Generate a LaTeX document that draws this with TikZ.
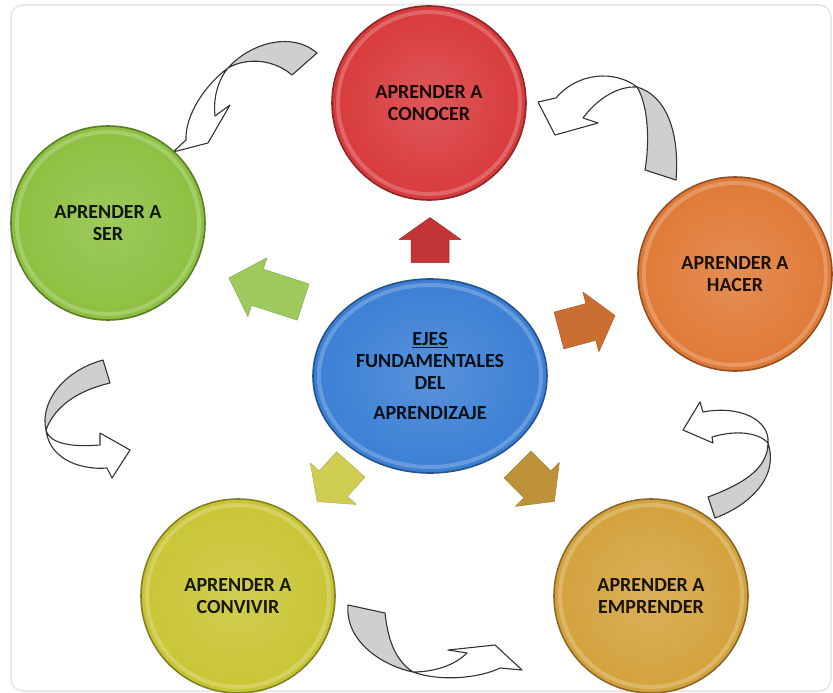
\documentclass[tikz,border=0pt]{standalone}
\usepackage{fontspec}
\setmainfont{Carlito}
\usetikzlibrary{shapes.geometric}
\definecolor{cRed}{HTML}{D83A3C}
\definecolor{cGreen}{HTML}{8CC040}
\definecolor{cOrange}{HTML}{E07A36}
\definecolor{cBlue}{HTML}{3B7FD4}
\definecolor{cYellow}{HTML}{C8C534}
\definecolor{cGold}{HTML}{D3A23C}
\tikzset{
  disc/.style={circle, minimum size=194pt, inner sep=0pt, draw=#1!65!black, line width=1.6pt,
    shading=radial, inner color=#1!85!white, outer color=#1, text=#1!12!black,
    font=\fontsize{20}{22}\selectfont\bfseries, align=center},
  bevel/.style={draw=#1!45!white, line width=4pt, opacity=0.4},
  backband/.style={fill=gray!38, draw=black!80, line width=1.1pt, line join=round},
  frontband/.style={fill=white, draw=black!80, line width=1.1pt, line join=round},
  blockarrow/.style={fill=#1, draw=#1!85!black, line width=0.5pt, line join=round},
}
\newcommand\blockarr[6]{%
  \begin{scope}[shift={(#1,#2)}, rotate=#3]
    \path[blockarrow=#6] (-#4/2,-19) -- ({#4/2-#5},-19) -- ({#4/2-#5},-31) -- (#4/2,0)
      -- ({#4/2-#5},31) -- ({#4/2-#5},19) -- (-#4/2,19) -- cycle;
  \end{scope}}
\begin{document}
\begin{tikzpicture}[x=1pt,y=-1pt]
\useasboundingbox (0,0) rectangle (833,693);
\fill[white] (0,0) rectangle (833,693);
\draw[gray!20, line width=1.5pt, rounded corners=12pt] (11,5) rectangle (831,691);

% curved arrows
\path[backband] (228,68) .. controls (248,45) and (290,30) .. (317,53) -- (292,75)
  .. controls (272,58) and (245,58) .. (228,68) -- cycle;
\path[frontband] (228,68) .. controls (205,85) and (185,115) .. (186,140) -- (173,152) -- (208,143)
  -- (230,105) -- (215,116) .. controls (213,98) and (218,80) .. (228,68) -- cycle;

\path[backband] (637,87) .. controls (665,95) and (680,130) .. (676,180) -- (645,170)
  .. controls (650,140) and (648,105) .. (637,87) -- cycle;
\path[frontband] (637,87) .. controls (615,70) and (578,72) .. (556,98) -- (538,102) -- (555,135)
  -- (598,123) -- (583,118) .. controls (598,98) and (618,86) .. (637,87) -- cycle;

\path[backband] (103,360) -- (110,383) .. controls (80,390) and (55,405) .. (46,430)
  .. controls (40,405) and (60,372) .. (103,360) -- cycle;
\path[frontband] (46,430) .. controls (50,445) and (75,447) .. (100,445) -- (100,433) -- (130,450)
  -- (112,478) -- (107,468) .. controls (85,470) and (50,462) .. (46,430) -- cycle;

\path[backband] (708,497) -- (715,518) .. controls (745,507) and (780,480) .. (768,443)
  .. controls (768,470) and (740,485) .. (708,497) -- cycle;
\path[frontband] (768,443) .. controls (770,420) and (740,405) .. (703,412) -- (700,402) -- (683,430)
  -- (713,443) -- (712,437) .. controls (735,430) and (758,432) .. (768,443) -- cycle;

\path[backband] (348,605) -- (385,613) .. controls (388,640) and (395,660) .. (413,672)
  .. controls (380,665) and (345,640) .. (348,605) -- cycle;
\path[frontband] (413,672) .. controls (440,682) and (480,678) .. (500,668) -- (522,670) -- (495,645)
  -- (448,650) -- (467,653) .. controls (455,665) and (435,672) .. (413,672) -- cycle;

% circles
\node[disc=cRed] (conocer) at (429,103) {APRENDER A\\CONOCER};
\node[disc=cGreen] (ser) at (108,223) {APRENDER A\\SER};
\node[disc=cOrange] (hacer) at (735,274) {APRENDER A\\HACER};
\node[disc=cYellow] (convivir) at (238,596) {APRENDER A\\CONVIVIR};
\node[disc=cGold] (emprender) at (651,596) {APRENDER A\\EMPRENDER};
\node[disc=cBlue, ellipse, minimum width=234pt, minimum height=194pt] (ejes) at (430,376)
  {\underline{EJES}\\FUNDAMENTALES\\DEL\\[8pt]APRENDIZAJE};
\foreach \n/\c in {conocer/cRed, ser/cGreen, hacer/cOrange, convivir/cYellow, emprender/cGold}
  \draw[bevel=\c] (\n.center) circle (91pt);
\draw[bevel=cBlue] (ejes.center) ellipse (111pt and 91pt);

% block arrows
\blockarr{430}{240}{90}{45}{22}{cRed!90!black}
\blockarr{266}{290}{162}{78}{30}{cGreen!85!white}
\blockarr{587}{323}{15}{58}{25}{cOrange!90!black}
\blockarr{334}{483}{-132}{50}{24}{cYellow!85!white}
\blockarr{536}{483}{-45}{52}{24}{cGold!90!black}
\end{tikzpicture}
\end{document}
